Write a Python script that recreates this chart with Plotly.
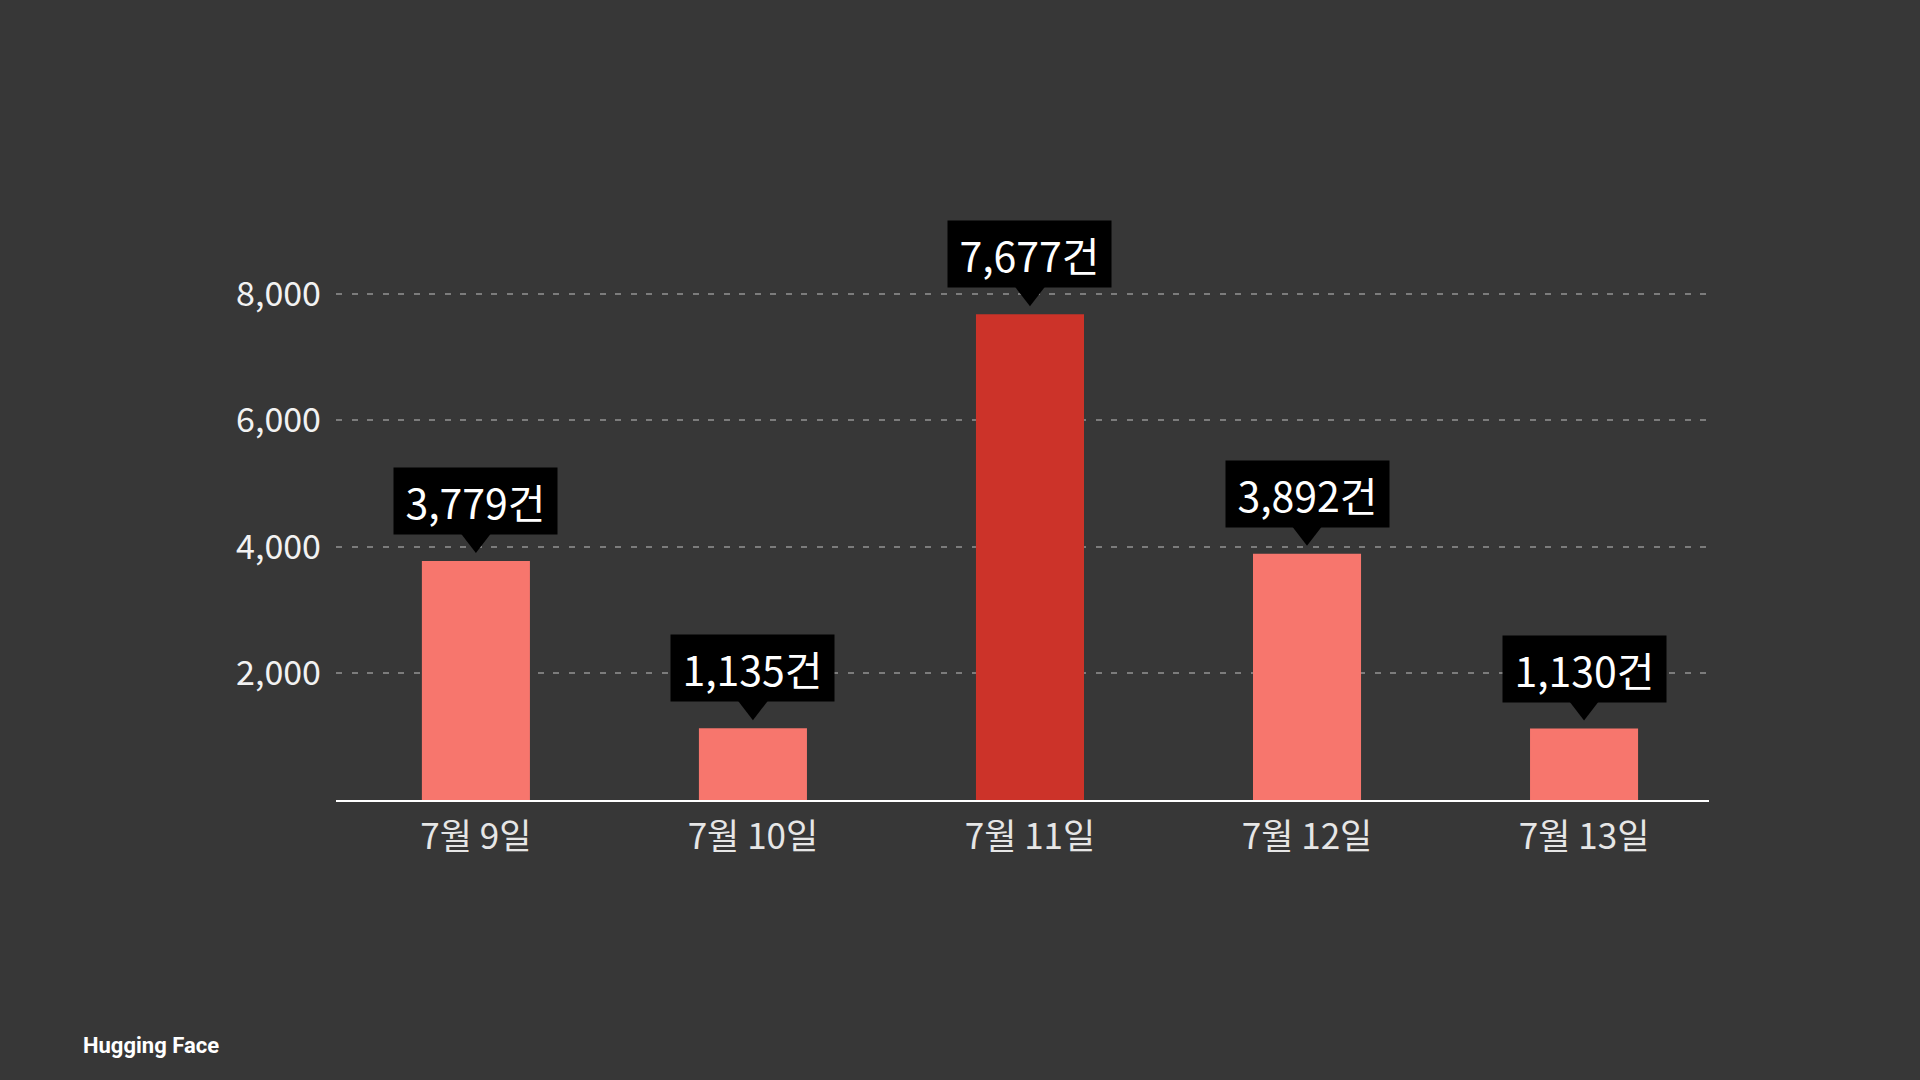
import plotly.graph_objects as go

# data
dates = ["7월 9일", "7월 10일", "7월 11일", "7월 12일", "7월 13일"]
counts = [3779, 1135, 7677, 3892, 1130]
highlight = "7월 11일"
y_ticks = [2000, 4000, 6000, 8000]
y_tick_text = ["2,000", "4,000", "6,000", "8,000"]
source = "Hugging Face"

W, H = 1920, 1080
margin = dict(l=336, r=211, t=199, b=280)
y_max = 9500
plot_h = H - margin["t"] - margin["b"]
units_per_px = y_max / plot_h

bg = "#373737"
bar_col = "#F7766D"
hi_col = "#CC3329"
font_kr = "Noto Sans CJK KR"

colors = [hi_col if d == highlight else bar_col for d in dates]

fig = go.Figure()
fig.add_trace(go.Bar(x=dates, y=counts, width=0.39, marker_color=colors,
                     marker_line_width=0, hoverinfo="skip"))

# pointer triangles under the value boxes
fig.add_trace(go.Scatter(
    x=dates, y=[c + 21 * units_per_px for c in counts], mode="markers",
    marker=dict(symbol="triangle-down", size=26, color="black"),
    hoverinfo="skip", cliponaxis=False))

# value boxes
for d, c in zip(dates, counts):
    fig.add_annotation(x=d, y=c, yanchor="bottom", yshift=26,
                       text=f"{c:,}건", showarrow=False,
                       font=dict(family=font_kr, size=41, color="white"),
                       bgcolor="black", width=155, height=58, borderpad=4)

fig.add_annotation(xref="paper", yref="paper", x=0, y=0, xanchor="left",
                   yanchor="middle", xshift=81 - margin["l"],
                   yshift=-(1045 - (H - margin["b"])),
                   text=f"<b>{source}</b>", showarrow=False,
                   font=dict(family="Roboto", size=22, color="white"))

fig.update_layout(
    width=W, height=H, margin=margin,
    paper_bgcolor=bg, plot_bgcolor=bg,
    showlegend=False,
    font=dict(family=font_kr, color="#eeeeee"),
    xaxis=dict(type="category", range=[-0.505, 4.451], showgrid=False,
               showline=True, linecolor="white", linewidth=2,
               ticks="", ticklabelstandoff=5,
               tickfont=dict(size=35, color="#e6e6e6")),
    yaxis=dict(range=[0, y_max], tickvals=y_ticks, ticktext=y_tick_text,
               showgrid=True, gridcolor="#7c7c7c", gridwidth=2,
               griddash="6px,9.5px", zeroline=False, showline=False,
               ticks="", ticklabelstandoff=14,
               tickfont=dict(size=34, color="#f2f2f2")),
)

fig.write_html("out.html", config={"displayModeBar": False},
               post_script="document.body.style.margin='0';"
                           "document.body.style.background='%s';" % bg)
